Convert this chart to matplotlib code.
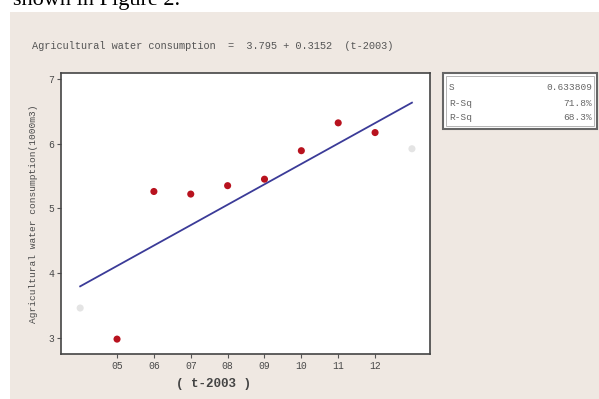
import matplotlib
matplotlib.use("Agg")
import matplotlib.pyplot as plt
from matplotlib.patches import Rectangle

# Data
x_obs = [1, 2, 3, 4, 5, 6, 7, 8]
y_obs = [2.98, 5.26, 5.22, 5.35, 5.45, 5.89, 6.32, 6.17]
x_faint = [0, 9]
y_faint = [3.46, 5.92]
intercept = 3.795
slope = 0.3152
fit_x = [0, 9]
tick_pos = [1, 2, 3, 4, 5, 6, 7, 8]
tick_labels = ["05", "06", "07", "08", "09", "10", "11", "12"]
y_ticks = [3, 4, 5, 6, 7]
stats_names = ["S", "R-Sq", "R-Sq"]
stats_vals = ["0.633809", "71.8%", "68.3%"]

W, H = 599, 399
fig = plt.figure(figsize=(W / 100, H / 100), dpi=100)
fig.patch.set_facecolor("white")

# beige panel
fig.patches.append(Rectangle((10 / W, 0), 1, 1 - 12 / H, transform=fig.transFigure,
                             facecolor="#efe8e2", edgecolor="none", zorder=-5))

# cut-off caption text at top
fig.text(13 / W, 1 - 4.5 / H, "shown in Figure 2.", family="Liberation Serif",
         fontsize=16, color="black", va="baseline", ha="left")

mono = "Liberation Mono"
tc = "#4a4a4a"

ax = fig.add_axes([61 / W, 1 - 354 / H, (430 - 61) / W, (354 - 73) / H])
ax.set_zorder(1)
ax.set_facecolor("white")
ax.set_xlim(-0.52, 9.49)
ax.set_ylim(2.75, 7.09)

fy = [intercept + slope * v for v in fit_x]
ax.plot(fit_x, fy, color="#3b3b98", lw=1.3, zorder=2)
ax.scatter(x_obs, y_obs, s=26, color="#b8121e", zorder=3, edgecolors="none")
ax.scatter(x_faint, y_faint, s=26, color="#e4e4e4", zorder=3, edgecolors="none")

ax.set_xticks(tick_pos)
ax.set_xticklabels(tick_labels, family=mono, fontsize=7, color=tc)
ax.set_yticks(y_ticks)
ax.set_yticklabels([str(v) for v in y_ticks], family=mono, fontsize=7, color=tc)
ax.tick_params(direction="out", length=3, width=0.8, color="#555555", pad=2)
for s in ax.spines.values():
    s.set_color("#444444")
    s.set_linewidth(1.2)

ax.set_xlabel("( t-2003 )", family=mono, fontsize=9, color="#444444", fontweight="bold")
ax.xaxis.set_label_coords(214 / 369 - 61 / 369 + 0.0, -0.085)
ax.set_ylabel("Agricultural water consumption(1000m3)", family=mono, fontsize=6.8,
              color=tc, labelpad=7)

fig.text(32 / W, 1 - 46 / H,
         "Agricultural water consumption  =  3.795 + 0.3152  (t-2003)",
         family=mono, fontsize=7.4, color="#555555", va="center", ha="left")

# stats box
bx0, bx1, by0, by1 = 443, 597, 73, 129
fig.patches.append(Rectangle((bx0 / W, 1 - by1 / H), (bx1 - bx0) / W, (by1 - by0) / H,
                             transform=fig.transFigure, facecolor="white",
                             edgecolor="#666666", lw=1.5, zorder=2))
fig.patches.append(Rectangle(((bx0 + 3) / W, 1 - (by1 - 3) / H), (bx1 - bx0 - 6) / W,
                             (by1 - by0 - 6) / H, transform=fig.transFigure,
                             facecolor="none", edgecolor="#aaaaaa", lw=0.6, zorder=2))
rows_y = [88, 103, 118]
for nm, val, yy in zip(stats_names, stats_vals, rows_y):
    fig.text(449 / W, 1 - yy / H, nm, family=mono, fontsize=6.8, color="#666666", va="center")
    fig.text(592 / W, 1 - yy / H, val, family=mono, fontsize=6.8, color="#666666",
             va="center", ha="right")

fig.savefig("out.png", dpi=100)
